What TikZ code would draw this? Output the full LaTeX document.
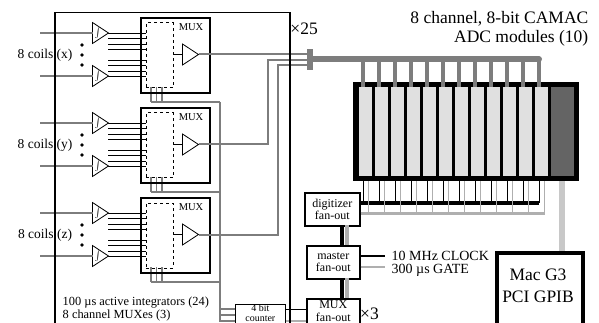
\documentclass[tikz,border=0pt]{standalone}
\usepackage{fontspec}
\setmainfont{Liberation Serif}
\usepackage{tikz}
\usetikzlibrary{shapes.geometric,positioning}
\definecolor{busgray}{RGB}{125,125,125}
\definecolor{lightbus}{RGB}{175,175,175}
\definecolor{macbus}{RGB}{200,200,200}
\definecolor{modgray}{RGB}{224,224,224}
\definecolor{ctrlgray}{RGB}{100,100,100}
\tikzset{
  blockbox/.style={rectangle, draw, line width=1.6pt, fill=white, align=center, inner sep=0pt, font=\fontsize{12}{12}\selectfont},
  muxbox/.style={rectangle, draw, line width=1.6pt, minimum width=69pt, minimum height=75pt, inner sep=0pt},
  selbox/.style={rectangle, draw, dashed, line width=0.9pt, minimum width=27pt, minimum height=65pt, inner sep=0pt},
  amp/.style={isosceles triangle, isosceles triangle stretches, draw, line width=0.8pt, fill=white, minimum width=21pt, minimum height=16pt, inner sep=0pt, outer sep=0pt, anchor=lower side},
  modbox/.style={rectangle, fill=modgray, minimum width=13pt, minimum height=88.5pt, inner sep=0pt},
  dotnode/.style={circle, fill=black, minimum size=3.6pt, inner sep=0pt},
  textlabel/.style={inner sep=0pt, font=\fontsize{13.5}{15}\selectfont},
  biglabel/.style={inner sep=0pt, font=\fontsize{17.5}{19}\selectfont},
  sig/.style={line width=0.8pt},
  graysig/.style={line width=2pt, busgray},
  selsig/.style={line width=1.4pt, busgray},
  selbus/.style={line width=2.4pt, busgray},
  fat/.style={line width=4.7pt},
}
\begin{document}
\begin{tikzpicture}[x=1pt,y=-1pt]
  \useasboundingbox (0,0) rectangle (599,323);
  \clip (0,0) rectangle (599,323);

  % bus bar and the points it ties
  \node[rectangle, fill=busgray, minimum width=6pt, minimum height=21pt, inner sep=0pt] (bar) at (310,59.5) {};
  \coordinate (busend) at (539,59.5);
  \coordinate (csel) at (220,321);
  \coordinate (turny) at (267.5,60);
  \coordinate (turnz) at (278,65.5);

  % crate
  \node[rectangle, fill=black, minimum width=226pt, minimum height=99pt, inner sep=0pt, anchor=north west] (crate) at (353,82) {};
  \foreach \i in {0,...,11} {
    \node[modbox, anchor=north west] (mod\i) at (359+16*\i,87) {};
  }
  \node[rectangle, fill=ctrlgray, minimum width=23.5pt, minimum height=88.5pt, inner sep=0pt, anchor=north west] (ctrl) at (550.5,87) {};

  % blocks on the right
  \node[blockbox, minimum width=55pt, minimum height=33pt, anchor=north west] (digi) at (304,192) {digitizer\\fan-out};
  \node[blockbox, minimum width=53pt, minimum height=33pt, anchor=north west] (master) at (306,245) {master\\fan-out};
  \node[blockbox, minimum width=53pt, minimum height=29pt, anchor=north west] (muxfan) at (306,298) {};
  \node[inner sep=0pt, align=center, font=\fontsize{12}{12.5}\selectfont, yshift=2pt] (muxfantext) at (muxfan) {MUX\\fan-out};
  \node[blockbox, minimum width=50pt, minimum height=21.5pt, anchor=north west] (counter) at (234.5,303.5) {};
  \node[inner sep=0pt, align=center, font=\fontsize{10}{9.5}\selectfont, yshift=2pt] (countertext) at (counter) {4 bit\\counter};
  \node[rectangle, draw, line width=4.4pt, minimum width=86pt, minimum height=110pt, inner sep=0pt, anchor=north west] (mac) at (495,250.5) {};
  \node[inner sep=0pt, align=center, font=\fontsize{17.5}{22}\selectfont] (mactext) at (538,286) {Mac G3\\PCI GPIB};

  % the three channels
  \foreach \name/\off in {x/0, y/90, z/180} {
    \coordinate (ina\name) at (40,33+\off);
    \coordinate (inb\name) at (40,76+\off);
    \coordinate (seltop\name) at (151,87+\off);
    \coordinate (selmid\name) at (156.5,87+\off);
    \coordinate (selend\name) at (162,87+\off);
    \coordinate (selbus\name) at (220,102+\off);
    \draw[selsig] (seltop\name) -- ++(0,15);
    \draw[selsig] (selmid\name) -- ++(0,15);
    \draw[selsig] (selend\name) -- ++(0,15);
    \draw[selbus] (seltop\name |- selbus\name) -- (selbus\name);
    \node[muxbox, anchor=north west] (mux\name) at (140,17+\off) {};
    \node[selbox, anchor=north west] (sel\name) at (145.5,22.5+\off) {};
    \node[inner sep=0pt, font=\fontsize{10.5}{11}\selectfont] (muxlab\name) at (191,27+\off) {MUX};
    \node[dotnode] (dota\name) at (82,45+\off) {};
    \node[dotnode] (dotb\name) at (82,55+\off) {};
    \node[dotnode] (dotc\name) at (82,65+\off) {};
    \foreach \y in {33,38.5,44,49.5,60,65.5,71,76} {
      \draw[sig] (108,\y+\off) -- (145.5,\y+\off);
    }
    \node[amp] (inta\name) at (92.5,33+\off) {};
    \node[amp] (intb\name) at (92.5,76+\off) {};
    \node[amp] (out\name) at (182.5,54.5+\off) {};
    \node[inner sep=0pt, font=\fontsize{7}{7}\selectfont] (inti\name) at (98,33+\off) {$\int$};
    \node[inner sep=0pt, font=\fontsize{7}{7}\selectfont] (intj\name) at (98,76+\off) {$\int$};
    \draw[graysig] (ina\name) -- (inta\name.lower side);
    \draw[graysig] (inb\name) -- (intb\name.lower side);
    \draw[sig] (sel\name.east |- out\name) -- (out\name.lower side);
  }

  % labels of the coils
  \node[textlabel] (coilx) at (45,55) {8 coils (x)};
  \node[textlabel] (coily) at (45,145) {8 coils (y)};
  \node[textlabel] (coilz) at (45,235) {8 coils (z)};

  % outputs to the bus bar
  \draw[graysig] (outx.apex) -- (bar.west |- outx.apex);
  \draw[graysig] (outy.apex) -| (turny) -- (bar.west |- turny);
  \draw[graysig] (outz.apex) -| (turnz) -- (bar.west |- turnz);
  \draw[line width=6pt, busgray, line cap=round] (bar.center) -- (busend);
  \foreach \i in {0,...,11} {
    \draw[line width=4pt, busgray] ([xshift=-2.5pt]mod\i.north) -- ([xshift=-2.5pt]mod\i.north |- busend);
  }

  % select lines to the counter
  \draw[selbus] (selbusx) -- (csel) -- (counter.west |- csel);
  \draw[selsig] (220,309) -- (counter.west |- 220,309);
  \draw[selsig] (220,315) -- (counter.west |- 220,315);

  % readout lines below the crate
  \foreach \i in {0,...,11} {
    \draw[line width=1.1pt] ([xshift=-2.5pt]mod\i.south |- crate.south) -- ([xshift=-2.5pt]mod\i.south |- 0,203);
  }
  \draw[line width=3.8pt] (digi.east |- 0,203) -- ([xshift=-2.5pt]mod11.south |- 0,203);
  \draw[line width=3pt, lightbus] (digi.east |- 0,213) -- ([xshift=3pt]mod11.south |- 0,213);
  \foreach \i in {0,...,11} {
    \draw[line width=1.2pt, lightbus] ([xshift=3pt]mod\i.south |- crate.south) -- ([xshift=3pt]mod\i.south |- 0,213);
  }
  \draw[line width=6pt, macbus] (ctrl.south |- crate.south) -- (ctrl.south |- mac.north);

  % between the fan-outs
  \draw[fat] (342,225) -- (342,245);
  \draw[fat, lightbus] (347,225) -- (347,245);
  \draw[fat] (342,278) -- (342,298);
  \draw[fat, lightbus] (347,278) -- (347,298);

  % clock and gate
  \node[textlabel, anchor=west, font=\fontsize{14}{15}\selectfont] (clock) at (391.5,256) {10 MHz CLOCK};
  \node[textlabel, anchor=west, font=\fontsize{14}{15}\selectfont] (gate) at (391.5,270) {300 µs GATE};
  \draw[line width=1.2pt, shorten >=7pt] (master.east |- clock) -- (clock.west);
  \draw[line width=2pt, lightbus, shorten >=7pt] (master.east |- 0,267) -- (clock.west |- 0,267);

  % counter to fan-out
  \draw[line width=1.4pt] (counter.east |- 0,309.5) -- (muxfan.west |- 0,309.5);
  \draw[line width=2pt, lightbus] (counter.east |- 0,321) -- (muxfan.west |- 0,321);

  % rack of integrators
  \node[rectangle, draw, line width=1.5pt, minimum width=235pt, minimum height=330pt, anchor=north west, inner sep=0pt] (rack) at (54,12) {};

  % captions
  \node[biglabel, anchor=east] (xtf) at (318,29) {×25};
  \node[biglabel, anchor=west] (xth) at (360,313.5) {×3};
  \node[biglabel, anchor=east] (titlea) at (588.5,19) {8 channel, 8-bit CAMAC};
  \node[biglabel, anchor=east] (titleb) at (588.5,38.5) {ADC modules (10)};
  \node[textlabel, anchor=west, font=\fontsize{12.4}{14}\selectfont] (capa) at (62.5,303) {100 µs active integrators (24)};
  \node[textlabel, anchor=west, font=\fontsize{12.4}{14}\selectfont] (capb) at (62.5,316) {8 channel MUXes (3)};
\end{tikzpicture}
\end{document}
